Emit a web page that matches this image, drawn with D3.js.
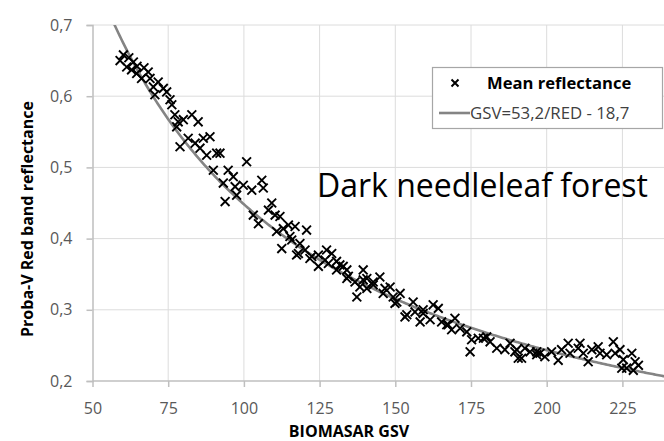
<!DOCTYPE html>
<html>
<head>
<meta charset="utf-8">
<script src="https://cdn.jsdelivr.net/npm/d3@7"></script>
<style>
  html, body { margin: 0; padding: 0; background: #fff; overflow: hidden; }
  svg { display: block; }
  text { font-family: "Open Sans", "Noto Sans", sans-serif; }
</style>
</head>
<body>
<svg id="chart" width="664" height="441"></svg>
<script>
// ---- data ----
const gsv = [
  60.2,59.1,63.5,61.3,62.9,64.6,68.4,66.2,69.0,71.7,70.1,73.4,74.5,70.6,75.6,76.2,77.2,78.3,80.0,82.8,
  84.9,77.8,81.6,78.9,83.9,86.6,88.8,85.5,87.7,91.0,92.1,89.9,94.8,100.9,96.5,93.2,99.8,62.0,64.7,67.0,
  97.1,102.6,105.9,106.4,93.8,97.6,109.2,108.1,111.9,103.1,104.8,110.3,114.7,116.9,113.0,120.7,110.8,115.2,115.8,118.5,
  112.5,118.0,120.2,117.4,121.8,122.4,124.6,127.3,129.0,126.8,124.6,127.9,130.6,131.7,132.8,130.6,134.0,134.5,134.0,139.4,
  136.7,139.4,140.6,142.7,144.9,140.6,138.3,142.7,146.6,137.3,149.3,150.5,
  148.3,151.6,149.9,155.9,153.2,156.5,159.2,162.5,164.2,158.2,161.5,165.3,167.0,169.7,168.6,171.4,173.6,175.2,177.4,174.7,
  180.2,181.3,183.5,186.2,187.9,189.5,190.6,192.8,194.5,196.7,146.0,153.8,159.2,167.5,179.1,190.1,197.8,
  191.7,196.7,199.4,201.6,203.8,204.9,207.1,207.7,210.4,211.0,212.1,213.7,214.9,217.0,217.6,219.8,222.0,222.6,224.2,225.3,
  226.4,228.1,229.2,228.6,230.3,224.8
];
const reflectance = [
  0.658,0.650,0.648,0.641,0.637,0.632,0.634,0.625,0.625,0.620,0.613,0.611,0.606,0.602,0.595,0.588,0.574,0.564,0.567,0.574,
  0.564,0.557,0.541,0.529,0.534,0.541,0.543,0.527,0.517,0.520,0.520,0.496,0.496,0.508,0.487,0.478,0.475,0.654,0.642,0.640,
  0.473,0.468,0.482,0.471,0.452,0.461,0.450,0.440,0.431,0.433,0.421,0.433,0.419,0.417,0.414,0.412,0.410,0.403,0.398,0.393,
  0.386,0.379,0.384,0.377,0.372,0.375,0.377,0.384,0.379,0.370,0.361,0.365,0.368,0.363,0.361,0.356,0.356,0.347,0.344,0.356,
  0.339,0.342,0.344,0.339,0.346,0.330,0.332,0.335,0.330,0.318,0.318,0.311,
  0.332,0.323,0.309,0.311,0.290,0.297,0.295,0.307,0.302,0.283,0.286,0.283,0.279,0.288,0.272,0.274,0.269,0.258,0.260,0.241,
  0.262,0.255,0.246,0.244,0.253,0.241,0.232,0.246,0.241,0.241,0.323,0.293,0.300,0.279,0.260,0.244,0.239,
  0.232,0.237,0.234,0.241,0.229,0.244,0.253,0.239,0.246,0.253,0.239,0.227,0.244,0.248,0.239,0.237,0.255,0.239,0.244,0.230,
  0.218,0.239,0.227,0.215,0.222,0.218
];
const xTicks = [50, 75, 100, 125, 150, 175, 200, 225];
const yTicks = [0.2, 0.3, 0.4, 0.5, 0.6, 0.7];
const fitA = 53.2, fitB = 18.7;  // GSV = 53.2/RED - 18.7
const seriesNames = ["Mean reflectance", "GSV=53,2/RED - 18,7"];
const xTitle = "BIOMASAR GSV";
const yTitle = "Proba-V Red band reflectance";
const annotation = "Dark needleleaf forest";

// ---- layout ----
const svg = d3.select("#chart");
const pL = 92.5, pT = 25, pB = 381;
const x = d3.scaleLinear().domain([50, 240]).range([pL, pL + 190 * 3.028]);
const y = d3.scaleLinear().domain([0.2, 0.7]).range([pB, pT]);
const fmt = v => d3.format(".1f")(v).replace(".", ",");

svg.append("defs").append("clipPath").attr("id", "plotclip")
  .append("rect").attr("x", pL).attr("y", pT).attr("width", 664 - pL).attr("height", pB - pT);

// grid
const grid = svg.append("g");
grid.selectAll("line.h").data(yTicks.slice(1)).enter().append("line")
  .attr("x1", pL).attr("x2", 664).attr("y1", d => y(d)).attr("y2", d => y(d))
  .attr("stroke", "#dcdcdc").attr("stroke-width", 1);
grid.selectAll("line.v").data(xTicks.slice(1)).enter().append("line")
  .attr("x1", d => x(d)).attr("x2", d => x(d)).attr("y1", pT).attr("y2", pB)
  .attr("stroke", "#dcdcdc").attr("stroke-width", 1);

// axes
const xAxis = svg.append("g").attr("transform", `translate(0,${pB})`)
  .call(d3.axisBottom(x).tickValues(xTicks).tickSize(6).tickPadding(16).tickFormat(d3.format("d")));
xAxis.select(".domain").attr("d", `M${pL},0H664`);
const yAxis = svg.append("g").attr("transform", `translate(${pL},0)`)
  .call(d3.axisLeft(y).tickValues(yTicks).tickSize(6).tickPadding(14).tickFormat(fmt));
[xAxis, yAxis].forEach(g => {
  g.select(".domain").attr("stroke", "#bfbfbf").attr("stroke-width", 1.5);
  g.selectAll(".tick line").attr("stroke", "#bfbfbf").attr("stroke-width", 1.5);
  g.selectAll(".tick text").attr("fill", "#595959").style("font-size", "16px")
    .style("font-family", "'Open Sans', sans-serif");
});

// fitted curve
const curveX = d3.range(55, 241, 0.5);
svg.append("path")
  .attr("clip-path", "url(#plotclip)")
  .attr("d", d3.line().x(d => x(d)).y(d => y(fitA / (d + fitB)))(curveX))
  .attr("fill", "none").attr("stroke", "#848484").attr("stroke-width", 2.6);

// scatter
const cross = "M-4.4,-4.4L4.4,4.4M-4.4,4.4L4.4,-4.4";
svg.append("g").selectAll("path").data(gsv.map((g, i) => [g, reflectance[i]])).enter().append("path")
  .attr("transform", d => `translate(${x(d[0])},${y(d[1])})`)
  .attr("d", cross).attr("stroke", "#000").attr("stroke-width", 1.9).attr("fill", "none");

// annotation
svg.append("text").attr("x", 317).attr("y", 197).text(annotation)
  .attr("fill", "#000").style("font-size", "32px");

// legend
const lg = svg.append("g");
lg.append("rect").attr("x", 432.5).attr("y", 67.5).attr("width", 230).attr("height", 61)
  .attr("fill", "#fff").attr("stroke", "#a6a6a6").attr("stroke-width", 1.2);
lg.append("path").attr("transform", "translate(455,83)").attr("d", "M-3.5,-3.5L3.5,3.5M-3.5,3.5L3.5,-3.5")
  .attr("stroke", "#000").attr("stroke-width", 2);
lg.append("text").attr("x", 487).attr("y", 89).text(seriesNames[0])
  .style("font-size", "16.6px").style("font-weight", "bold").attr("fill", "#000");
lg.append("line").attr("x1", 439).attr("x2", 470).attr("y1", 113).attr("y2", 113)
  .attr("stroke", "#848484").attr("stroke-width", 2.6);
lg.append("text").attr("x", 470).attr("y", 119).text(seriesNames[1])
  .style("font-size", "16.8px").attr("fill", "#404040");

// axis titles
svg.append("text").attr("transform", "translate(33,219) rotate(-90)").attr("text-anchor", "middle")
  .text(yTitle).style("font-size", "16px").style("font-weight", "bold").attr("fill", "#000");
svg.append("text").attr("x", 349).attr("y", 437).attr("text-anchor", "middle")
  .text(xTitle).style("font-size", "16px").style("font-weight", "bold").attr("fill", "#000");
</script>
</body>
</html>
